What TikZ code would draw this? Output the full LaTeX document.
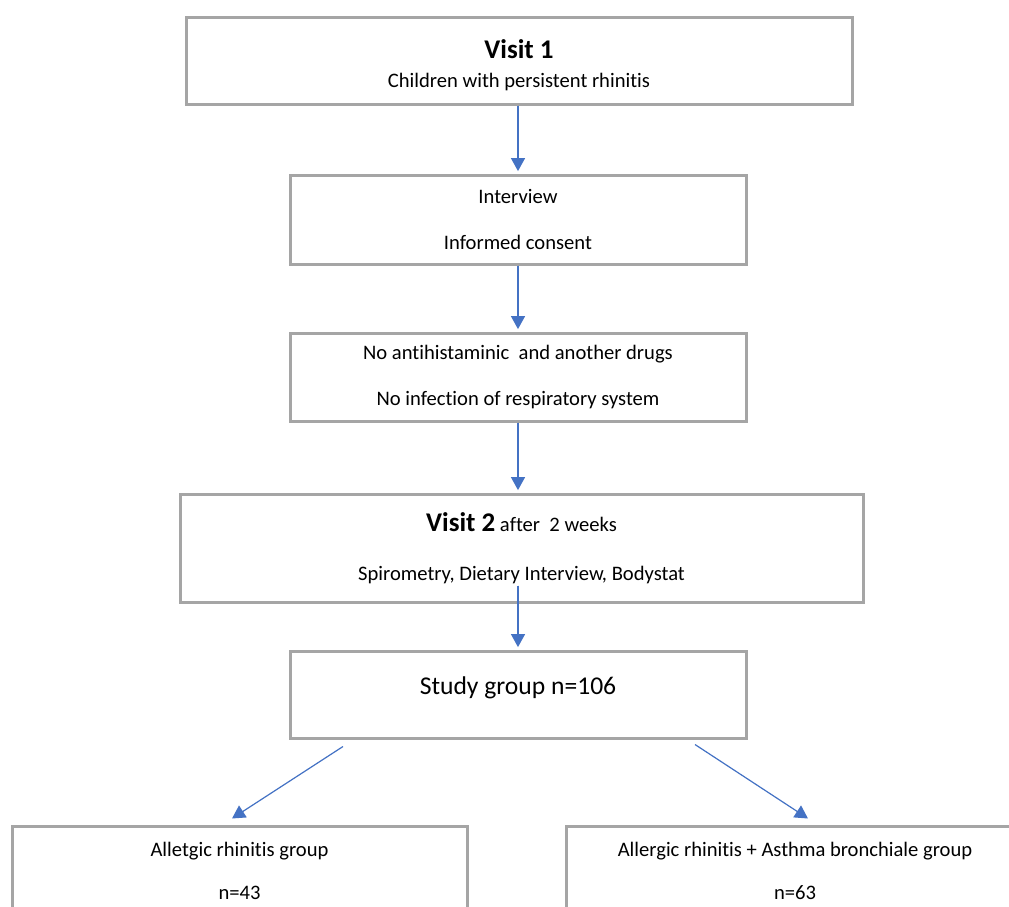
\documentclass[tikz,border=0pt]{standalone}
\usepackage{fontspec}
\setmainfont{Carlito}[Ligatures={NoCommon}]
\usetikzlibrary{positioning,arrows.meta,calc}
\usepackage{xcolor}
\definecolor{boxgray}{HTML}{A5A5A5}
\definecolor{flowblue}{HTML}{4472C4}

\begin{document}
\begin{tikzpicture}[x=0.5pt,y=-0.5pt,>={Triangle[width=7pt,length=6.5pt]},
  flowbox/.style={draw=boxgray,line width=1.5pt,fill=white,align=center,inner sep=0pt,font=\fontsize{10.3}{12.4}\selectfont},
  flow/.style={->,draw=flowblue,fill=flowblue,line width=0.6pt,shorten >=1.2pt}]
\path[use as bounding box,clip] (0,0) rectangle (1009,907);
\node[flowbox,minimum width=333pt,minimum height=43.5pt] (visit1) at (519,60.5) {\rule{0pt}{14pt}{\fontsize{13.5}{15}\selectfont\bfseries Visit 1}\\[2pt]Children with persistent rhinitis};
\node[flowbox,minimum width=228pt,minimum height=44.5pt] (interview) at (518,219.5) {Interview\\[10.6pt]Informed consent};
\node[flowbox,minimum width=228pt,minimum height=44pt] (drugs) at (518,377) {No antihistaminic~~and another drugs\\[10.6pt]No infection of respiratory system};
\node[flowbox,minimum width=341.5pt,minimum height=54pt] (visit2) at (521.5,548) {{\fontsize{13.5}{15}\selectfont\bfseries Visit 2}~after~~2 weeks\\[12pt]Spirometry, Dietary Interview, Bodystat};
\node[flowbox,minimum width=228pt,minimum height=43.5pt,font=\fontsize{12.8}{15}\selectfont,text height=4pt,text depth=4pt] (study) at (518,694.5) {Study group n=106};
\node[flowbox,minimum width=227.5pt,minimum height=45pt] (rhin) at (239.5,871) {Alletgic rhinitis group\\[9pt]n=43};
\node[flowbox,minimum width=229pt,minimum height=45pt] (asthma) at (795,871) {Allergic rhinitis + Asthma bronchiale group\\[9pt]n=63};

\coordinate (v2out) at ($(study.north |- visit2.south)+(0,-18)$);
\coordinate (splitL) at ($(study.south)+(-175,7)$);
\coordinate (splitR) at ($(study.south)+(177,5)$);
\coordinate (toL) at ($(rhin.north)+(-7.5,-6)$);
\coordinate (toR) at ($(asthma.north)+(13,-6)$);

\draw[flow] (visit1.south -| interview.north) -- (interview.north);
\draw[flow] (interview) -- (drugs);
\draw[flow] (drugs) -- (visit2.north -| drugs.south);
\draw[flow] (v2out) -- (study.north);
\draw[flow,shorten >=0pt] (splitL) -- (toL);
\draw[flow,shorten >=0pt] (splitR) -- (toR);
\end{tikzpicture}
\end{document}
